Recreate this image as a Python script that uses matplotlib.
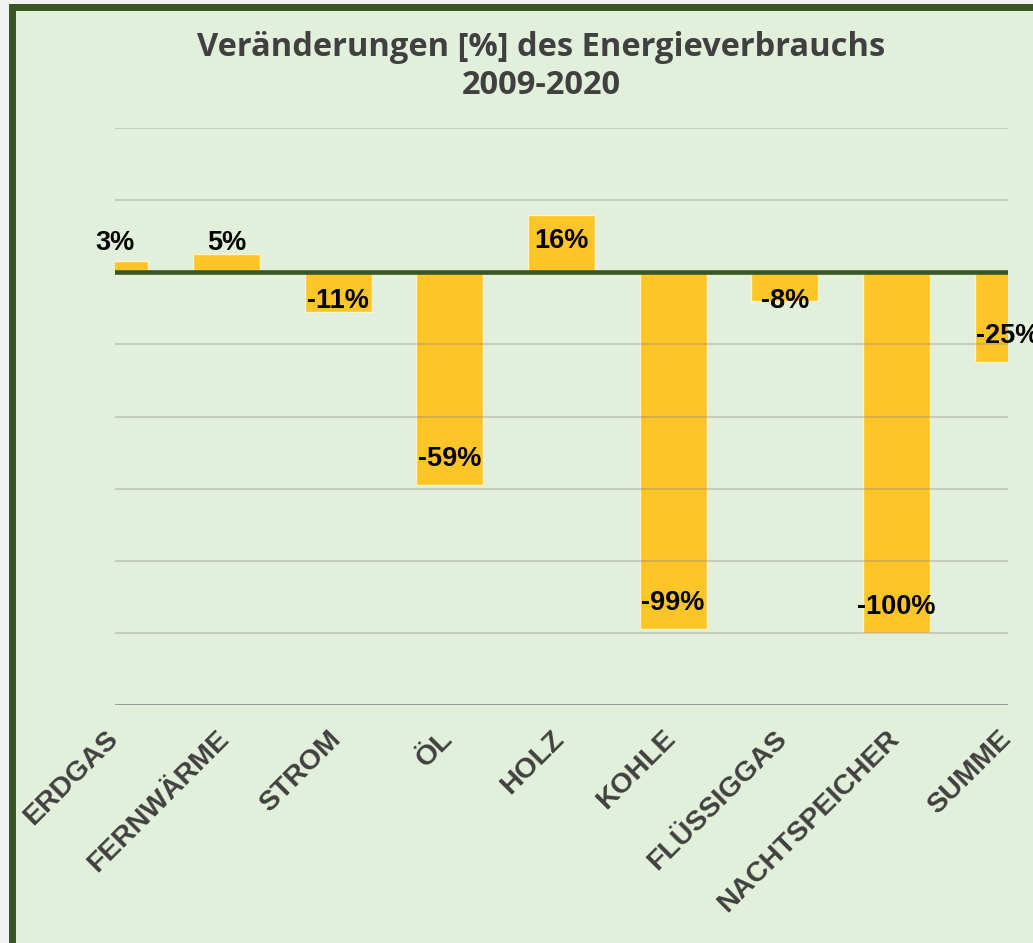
import matplotlib
matplotlib.use("Agg")
import matplotlib.pyplot as plt
from matplotlib.patches import Rectangle
from matplotlib.transforms import ScaledTranslation

# ──────────────────────────────────────────────────────────────────────
# Data
# ──────────────────────────────────────────────────────────────────────
categories = ["ERDGAS", "FERNWÄRME", "STROM", "ÖL", "HOLZ",
              "KOHLE", "FLÜSSIGGAS", "NACHTSPEICHER", "SUMME"]
changes = [3, 5, -11, -59, 16, -99, -8, -100, -25]
y_ticks = [-120, -100, -80, -60, -40, -20, 0, 20, 40]
title = "Veränderungen [%] des Energieverbrauchs\n2009-2020"

# ──────────────────────────────────────────────────────────────────────
# Style
# ──────────────────────────────────────────────────────────────────────
BG = "#e2efda"
DARK_GREEN = "#375623"
BAR = "#fdc527"
TEXT_GRAY = "#404040"

W, H = 1033, 943
fig = plt.figure(figsize=(W / 100, H / 100), dpi=100, facecolor="#f2f2f2")

# green panel with dark border (left/top visible, right/bottom run off image)
panel = Rectangle((11.5 / W, -0.05), 1.1, 1.05 - 7.5 / H,
                  transform=fig.transFigure, facecolor=BG,
                  edgecolor=DARK_GREEN, linewidth=5.0, zorder=-1)
fig.patches.append(panel)

ax = fig.add_axes([115 / W, 1 - 705 / H, (1008 - 115) / W, (705 - 128) / H])
ax.set_facecolor("none")
ax.set_zorder(1)

x = list(range(len(categories)))
ax.bar(x, changes, width=0.6, color=BAR, edgecolor="#fff3cf",
       linewidth=1.0, zorder=2)

# gridlines (semi-transparent, over the bars)
for t in y_ticks[1:]:
    if t == 0:
        continue
    ax.axhline(t, color="#7f7f7f", alpha=0.3, linewidth=1.5, zorder=3)
ax.axhline(y_ticks[0], color="#7f7f7f", alpha=0.75, linewidth=2.2, zorder=3)

# zero line
ax.axhline(0, color=DARK_GREEN, linewidth=3.3, zorder=4)

ax.set_xlim(0, len(categories) - 1)
ax.set_ylim(y_ticks[0], y_ticks[-1])
ax.set_yticks([])
for s in ax.spines.values():
    s.set_visible(False)

ax.set_xticks(x)
ax.set_xticklabels(categories, rotation=45, ha="right", va="top",
                   fontsize=20.5, fontweight="bold", color=TEXT_GRAY,
                   family="Liberation Sans")
ax.tick_params(axis="x", length=0, pad=15)
shift = ScaledTranslation(0.08, 0, fig.dpi_scale_trans)
for lab in ax.get_xticklabels():
    lab.set_transform(lab.get_transform() + shift)

# data labels (inside end, but kept clear of the zero line)
for xi, v in zip(x, changes):
    if v >= 0:
        ly = max(v - 7.2, 8)
    else:
        ly = min(v + 7.2, -8)
    ax.text(xi, ly, f"{v}%", ha="center", va="center", fontsize=19.5,
            fontweight="bold", color="black", family="Liberation Sans",
            zorder=5, clip_on=False)

fig.text(541 / W, 1 - 67 / H, title, ha="center", va="center",
         fontsize=23.5, fontweight="bold", color=TEXT_GRAY,
         family="Open Sans", linespacing=1.2)

fig.savefig("out.png", dpi=100, facecolor=fig.get_facecolor())
